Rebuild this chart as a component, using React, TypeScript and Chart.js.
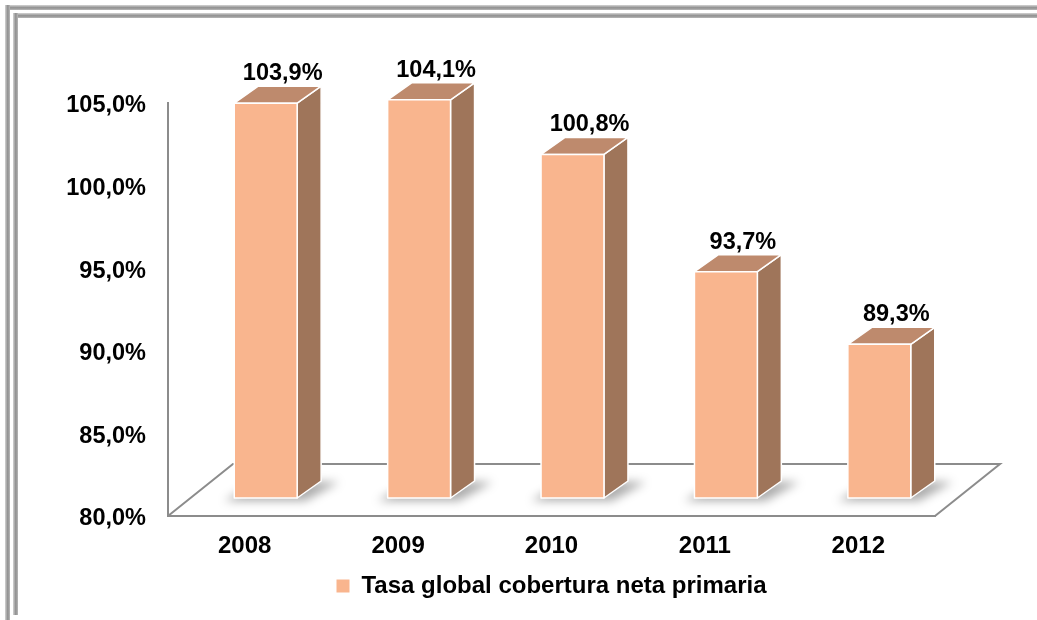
import React, { useEffect, useRef } from 'react';
import { Chart, registerables } from 'chart.js';
Chart.register(...registerables);

const categories = ['2008', '2009', '2010', '2011', '2012'];
const coverage = [103.9, 104.1, 100.8, 93.7, 89.3];
const seriesName = 'Tasa global cobertura neta primaria';
const yMin = 80;
const yMax = 105;
const yStep = 5;

const FRONT = '#F9B58E';
const TOP = '#BE8A6D';
const SIDE = '#9F755A';
const FLOOR_LINE = '#8C8C8C';
const FONT = '"Liberation Sans", Arial, sans-serif';

const fmt = (v: number) => v.toFixed(1).replace('.', ',') + '%';

const bar3d = {
  id: 'bar3d',
  beforeDatasetsDraw(chart: any) {
    const { ctx, chartArea } = chart;
    const ys = chart.scales.y;
    const base = ys.getPixelForValue(yMin);
    const FD_X = 65, FD_Y = 52;
    const left = chartArea.left, right = chartArea.right;
    ctx.save();
    ctx.strokeStyle = FLOOR_LINE;
    ctx.lineWidth = 2;
    ctx.beginPath();
    ctx.moveTo(left, base);
    ctx.lineTo(left + FD_X, base - FD_Y);
    ctx.lineTo(right + FD_X, base - FD_Y);
    ctx.lineTo(right, base);
    ctx.stroke();

    const meta = chart.getDatasetMeta(0);
    const OFF_X = 21, OFF_Y = 18, BD_X = 24, BD_Y = 17;
    const els = meta.data.map((el: any) => el.getProps(['x', 'y', 'width'], true));

    els.forEach((p: any) => {
      const L = p.x + OFF_X - p.width / 2, R = L + p.width;
      const b = base - OFF_Y;
      ctx.save();
      ctx.filter = 'blur(5px)';
      ctx.fillStyle = 'rgba(0,0,0,0.32)';
      ctx.beginPath();
      ctx.moveTo(L - 10, b + 3);
      ctx.lineTo(R + 8, b + 3);
      ctx.lineTo(R + BD_X + 18, b - BD_Y + 1);
      ctx.lineTo(L + BD_X, b - BD_Y);
      ctx.closePath();
      ctx.fill();
      ctx.restore();
    });

    els.forEach((p: any, i: number) => {
      const L = p.x + OFF_X - p.width / 2, R = L + p.width;
      const t = p.y - OFF_Y, b = base - OFF_Y;
      ctx.lineWidth = 1.5;
      ctx.strokeStyle = '#FFFFFF';
      ctx.lineJoin = 'round';
      ctx.fillStyle = SIDE;
      ctx.beginPath();
      ctx.moveTo(R, t);
      ctx.lineTo(R + BD_X, t - BD_Y);
      ctx.lineTo(R + BD_X, b - BD_Y);
      ctx.lineTo(R, b);
      ctx.closePath();
      ctx.fill();
      ctx.stroke();
      ctx.fillStyle = TOP;
      ctx.beginPath();
      ctx.moveTo(L, t);
      ctx.lineTo(L + BD_X, t - BD_Y);
      ctx.lineTo(R + BD_X, t - BD_Y);
      ctx.lineTo(R, t);
      ctx.closePath();
      ctx.fill();
      ctx.stroke();
      ctx.fillStyle = FRONT;
      ctx.beginPath();
      ctx.rect(L, t, p.width, b - t);
      ctx.fill();
      ctx.stroke();
      ctx.fillStyle = '#000';
      ctx.font = 'bold 23.5px ' + FONT;
      ctx.textAlign = 'center';
      ctx.textBaseline = 'alphabetic';
      ctx.fillText(fmt(coverage[i]), p.x + 38, t - BD_Y - 6);
    });
    ctx.restore();
    return false;
  },
};

const stripBase: React.CSSProperties = { position: 'fixed' };
const hGrad = 'linear-gradient(to bottom, #d4d4d4, #8e8e8e 55%, #b8b8b8)';
const vGrad = 'linear-gradient(to right, #d4d4d4, #8e8e8e 55%, #b8b8b8)';

export default function App() {
  const ref = useRef<HTMLCanvasElement>(null);
  useEffect(() => {
    if (!ref.current) return;
    const chart = new Chart(ref.current, {
      type: 'bar',
      data: {
        labels: categories,
        datasets: [
          {
            label: seriesName,
            data: coverage,
            backgroundColor: FRONT,
            borderWidth: 0,
            categoryPercentage: 1,
            barPercentage: 0.41,
          },
        ],
      },
      options: {
        responsive: false,
        animation: false,
        layout: { padding: { left: 0, right: 102, top: 103, bottom: 12 } },
        scales: {
          x: {
            grid: { display: false },
            border: { display: true, color: FLOOR_LINE, width: 2 },
            ticks: { padding: 8, color: '#000', font: { family: FONT, size: 24, weight: 'bold' } },
            afterFit: (s: any) => { s.height = 48; },
          },
          y: {
            min: yMin,
            max: yMax,
            grid: { display: false },
            border: { display: true, color: FLOOR_LINE, width: 2 },
            ticks: {
              stepSize: yStep,
              padding: 14,
              labelOffset: 3,
              color: '#000',
              font: { family: FONT, size: 23.5, weight: 'bold' },
              callback: (v: any) => fmt(Number(v)),
            },
            afterFit: (s: any) => { s.width = 168; },
          },
        },
        plugins: {
          legend: {
            position: 'bottom',
            fullSize: false,
            labels: {
              boxWidth: 13,
              boxHeight: 13,
              padding: 10,
              color: '#000',
              font: { family: FONT, size: 24, weight: 'bold' },
            },
          },
          tooltip: { enabled: false },
        },
      } as any,
      plugins: [bar3d as any],
    });
    return () => chart.destroy();
  }, []);

  return (
    <div>
      <canvas
        ref={ref}
        width={1037}
        height={620}
        style={{ position: 'fixed', left: 0, top: 0, width: '1037px', height: '620px' }}
      />
      <div style={{ ...stripBase, left: 5, top: 5, width: 1100, height: 5, background: hGrad }} />
      <div style={{ ...stripBase, left: 5, top: 5, width: 5, height: 700, background: vGrad }} />
      <div style={{ ...stripBase, left: 13, top: 13, width: 1100, height: 5, background: hGrad }} />
      <div style={{ ...stripBase, left: 13, top: 13, width: 5, height: 602, background: vGrad }} />
    </div>
  );
}
